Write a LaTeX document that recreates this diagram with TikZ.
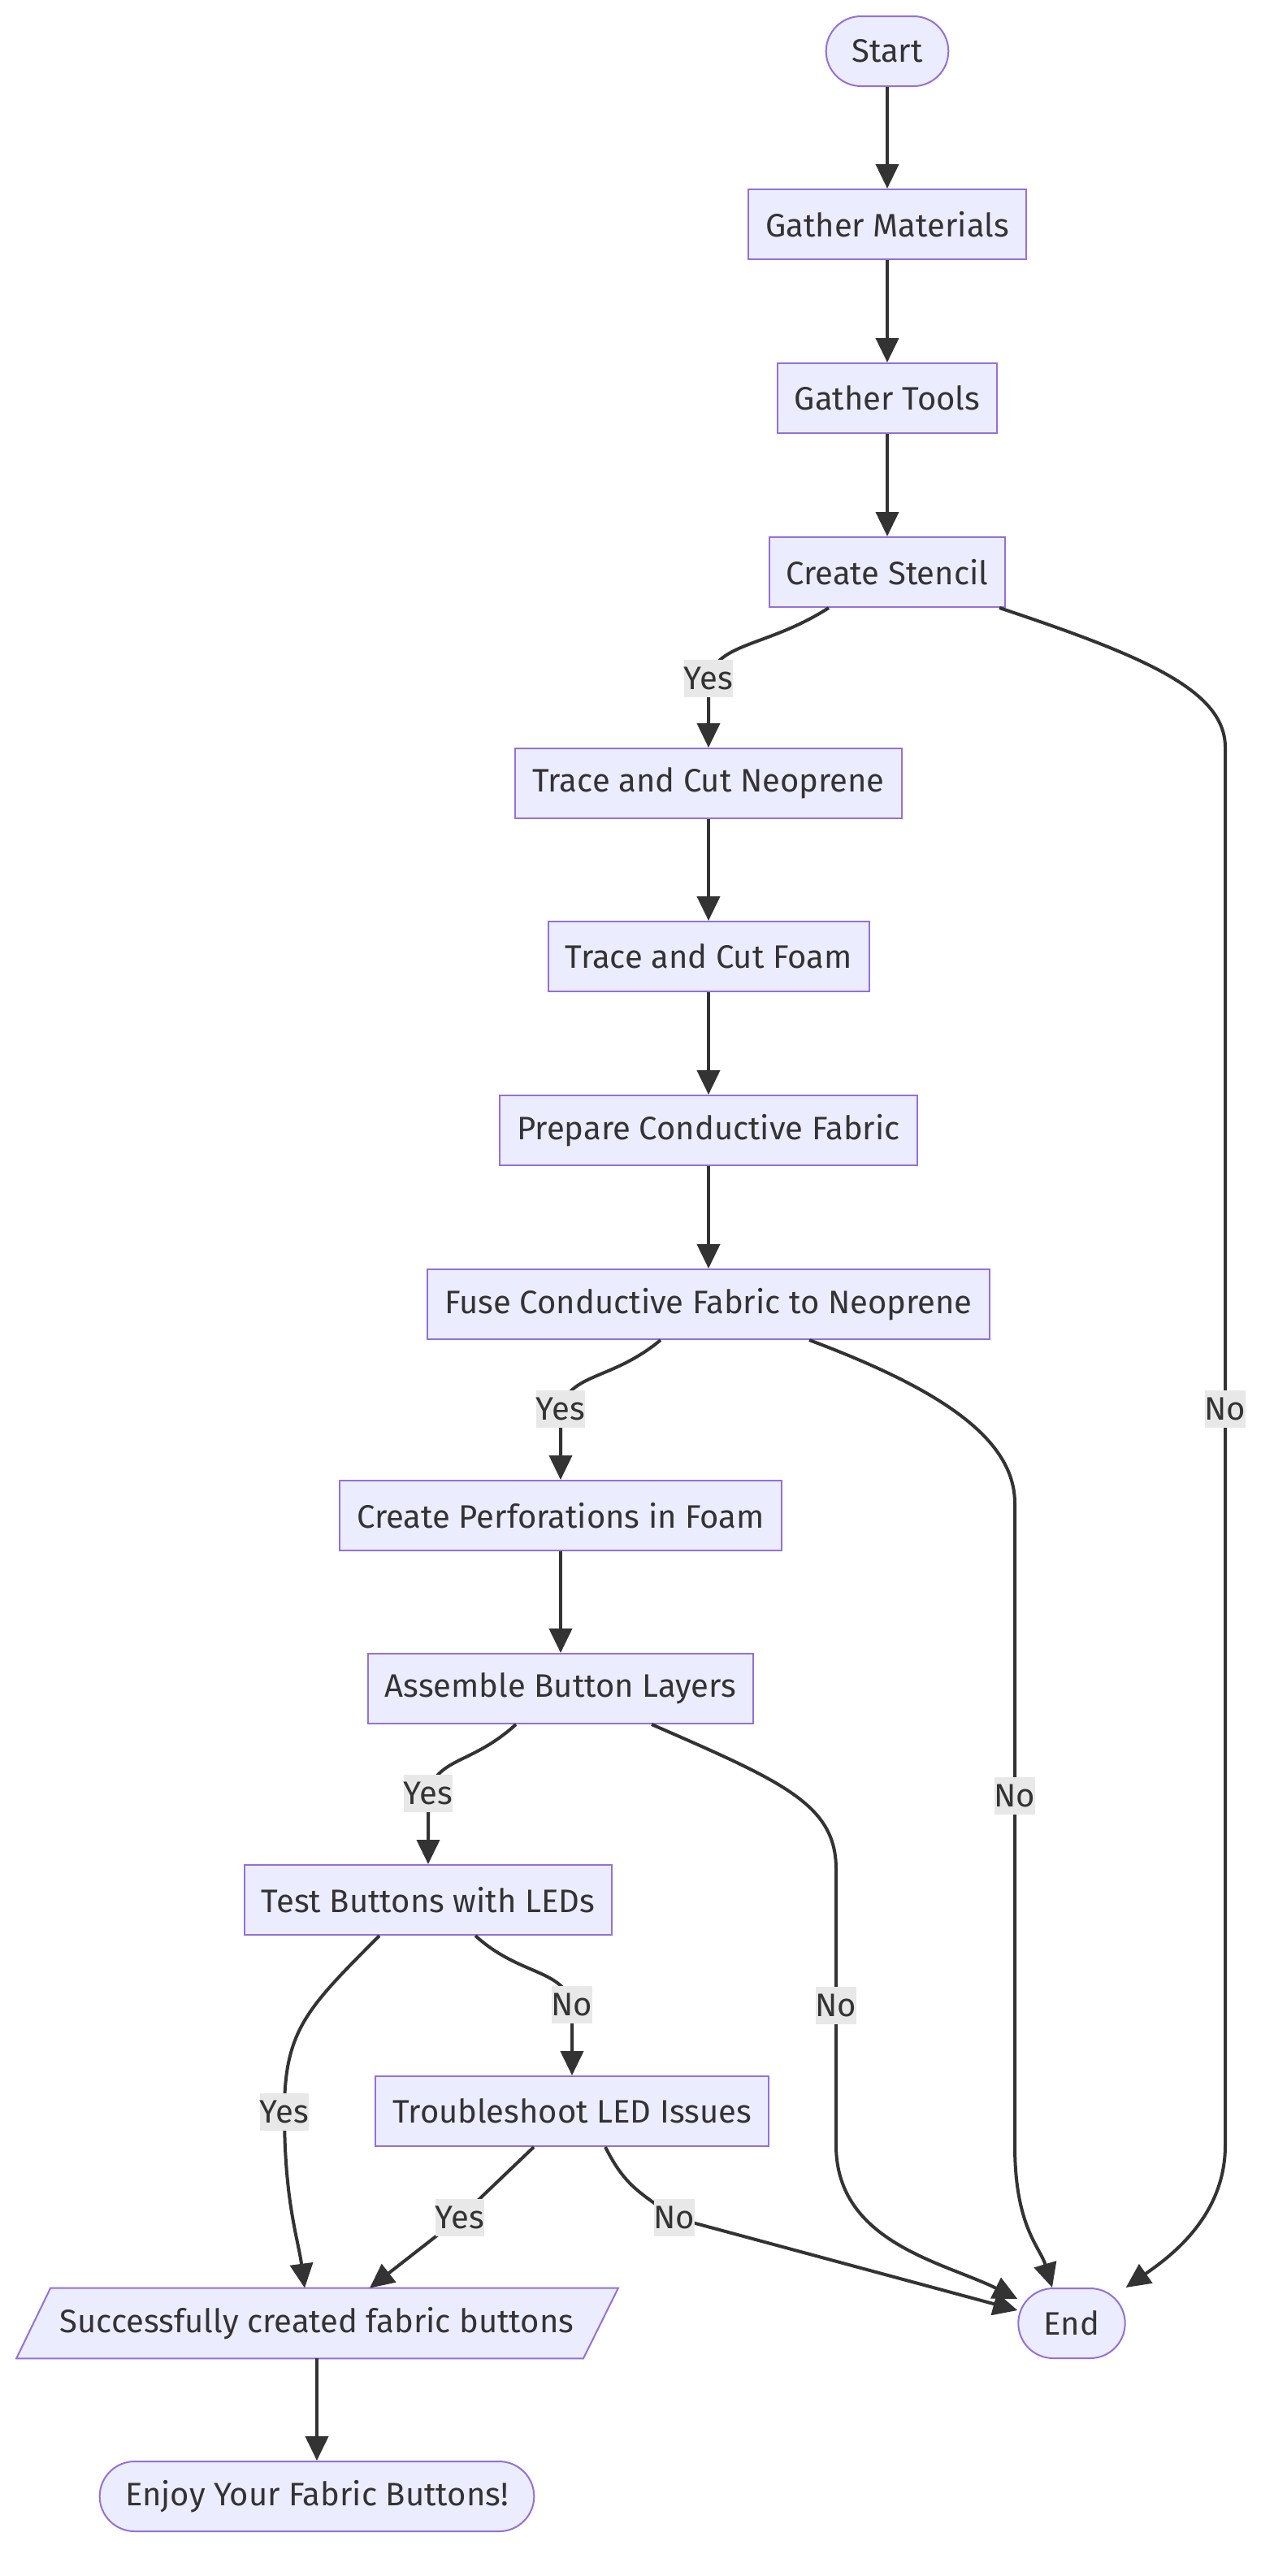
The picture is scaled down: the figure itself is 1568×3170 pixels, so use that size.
\documentclass[tikz,border=0pt]{standalone}
\usepackage{fontspec}
\setmainfont{Fira Sans}
\usetikzlibrary{arrows.meta, calc, positioning, backgrounds}
\definecolor{boxfill}{HTML}{ECECFF}
\definecolor{boxline}{HTML}{9370DB}
\definecolor{wire}{HTML}{333333}
\definecolor{tagfill}{HTML}{E8E8E8}
\newcommand{\flowfont}{\fontsize{20}{24}\selectfont}
\tikzstyle{stepbox}=[draw=boxline, fill=boxfill, line width=1pt, minimum height=43pt, inner xsep=10.5pt, text=wire, font=\flowfont]
\tikzstyle{terminal}=[stepbox, rounded corners=21.5pt, inner xsep=15.75pt]
\tikzstyle{outcome}=[minimum height=43pt, minimum width=327.5pt, inner xsep=0pt, text=wire, font=\flowfont]
\tikzstyle{slanted}=[draw=boxline, fill=boxfill, line width=1pt]
\tikzstyle{flow}=[draw=wire, line width=2pt, -{Triangle[length=15pt,width=14pt]}]
\tikzstyle{answer}=[fill=tagfill, text=wire, inner xsep=0pt, inner ysep=0pt, minimum height=23pt, font=\flowfont]

\begin{document}
\begin{tikzpicture}[x=0.5pt, y=-0.5pt]
    \useasboundingbox (0, 0) rectangle (1568, 3170);

    \node (start)[terminal] at (1092, 63) {Start};
    \node (gm)[stepbox] at (1092, 276) {Gather Materials};
    \node (gt)[stepbox] at (1092, 490) {Gather Tools};
    \node (cs)[stepbox] at (1092, 704) {Create Stencil};

    \node (tcn)[stepbox] at (872, 964) {Trace and Cut Neoprene};
    \node (tcf)[stepbox] at (872, 1177) {Trace and Cut Foam};
    \node (pcf)[stepbox] at (872, 1391) {Prepare Conductive Fabric};
    \node (fuse)[stepbox] at (872, 1605) {Fuse Conductive Fabric to Neoprene};

    \node (cpf)[stepbox] at (690, 1865) {Create Perforations in Foam};
    \node (abl)[stepbox] at (690, 2078) {Assemble Button Layers};
    \node (tb)[stepbox] at (527, 2338) {Test Buttons with LEDs};
    \node (tli)[stepbox] at (704, 2598) {Troubleshoot LED Issues};

    \node (done)[outcome] at (390, 2859) {Successfully created fabric buttons};
    \node (finish)[terminal] at (1319, 2859) {End};
    \node (enjoy)[terminal] at (390, 3072) {Enjoy Your Fabric Buttons!};

    \begin{scope}[on background layer]
        \path[fill=white] (0, 0) rectangle (1568, 3170);
        \draw[slanted] (done.north west) -- ($(done.north east)+(43,0)$) -- (done.south east) -- ($(done.south west)+(-42,0)$) -- cycle;
    \end{scope}

    % straight steps
    \draw[flow] (start) -- (gm);
    \draw[flow] (gm) -- (gt);
    \draw[flow] (gt) -- (cs);
    \draw[flow] (tcn) -- (tcf);
    \draw[flow] (tcf) -- (pcf);
    \draw[flow] (pcf) -- (fuse);
    \draw[flow] (cpf) -- (abl);
    \draw[flow] (done) -- (enjoy);

    % yes branches
    \draw[flow] ($(cs.south)+(-72,0)$) .. controls +(-75,48) and +(12,-45) .. ($(tcn.north)+(0,-85)$) node[answer] {Yes} -- (tcn.north);
    \draw[flow] ($(fuse.south)+(-59,0)$) .. controls +(-60,50) and +(12,-45) .. ($(cpf.north)+(0,-87)$) node[answer] {Yes} -- (cpf.north);
    \draw[flow] ($(abl.south)+(-55,0)$) .. controls +(-55,50) and +(12,-45) .. ($(tb.north)+(0,-87)$) node[answer] {Yes} -- (tb.north);
    \draw[flow] ($(tb.south)+(-60,0)$) .. controls +(-90,90) and +(0,-100) .. (350, 2599) node[answer] {Yes} .. controls +(0,110) and +(-8,-60) .. ($(done.north)+(-15,0)$);
    \draw[flow] ($(tli.south)+(-47,0)$) -- ($(tli.south)+(-138,87)$) node[answer] {Yes} -- ($(done.north)+(65,0)$);

    % no branches
    \draw[flow] ($(tb.south)+(58,0)$) .. controls +(55,50) and +(-12,-45) .. ($(tli.north)+(0,-87)$) node[answer] {No} -- (tli.north);
    \draw[flow] ($(tli.south)+(41,0)$) .. controls +(25,50) and +(-40,-30) .. ($(tli.south)+(126,87)$) node[answer] {No} -- ($(finish.west)+(0,-16)$);
    \draw[flow] ($(cs.south)+(138,0)$) .. controls +(180,60) and +(0,-70) .. (1508, 920) -- node[answer,pos=0.473] {No} (1508, 2640) .. controls +(0,90) and +(50,-35) .. (finish.north east);
    \draw[flow] ($(fuse.south)+(124,0)$) .. controls +(160,60) and +(0,-80) .. (1249, 1850) -- node[answer,pos=0.456] {No} (1249, 2640) .. controls +(0,100) and +(-15,-50) .. ($(finish.north)+(-24,0)$);
    \draw[flow] ($(abl.south)+(112,0)$) .. controls +(160,70) and +(0,-80) .. (1029, 2300) -- node[answer,pos=0.494] {No} (1029, 2640) .. controls +(0,120) and +(-90,-45) .. ($(finish.north west)+(0,14)$);

\end{tikzpicture}
\end{document}
